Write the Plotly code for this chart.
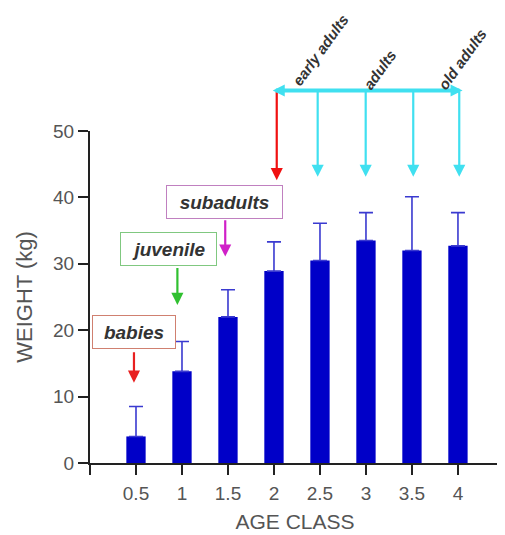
import plotly.graph_objects as go

age_class = [0.5, 1, 1.5, 2, 2.5, 3, 3.5, 4]
weight_mean = [4.0, 13.8, 22.0, 28.9, 30.5, 33.5, 32.0, 32.7]
weight_upper = [8.5, 18.3, 26.1, 33.3, 36.1, 37.7, 40.1, 37.7]
err_plus = [u - m for u, m in zip(weight_upper, weight_mean)]

x_tickvals = [0, 0.5, 1, 1.5, 2, 2.5, 3, 3.5, 4]
x_ticktext = ["", "0.5", "1", "1.5", "2", "2.5", "3", "3.5", "4"]
y_tickvals = [0, 10, 20, 30, 40, 50]
Y_MAX = 50

fig = go.Figure()
fig.add_trace(go.Bar(
    x=age_class, y=weight_mean, width=0.21,
    marker=dict(color="#0000c8", line=dict(width=0)),
    error_y=dict(type="data", array=err_plus, arrayminus=[0]*len(err_plus),
                 symmetric=False, color="#3a3ad0", thickness=1.6, width=7),
    showlegend=False,
))

FONT = "Liberation Sans, Arial, sans-serif"
label_font = dict(family=FONT, size=19, color="#333333")
ann = []
# stage boxes
for txt, x, y, bc, w in [("babies", 0.475, 19.8, "#d08070", 82),
                          ("juvenile", 0.851, 32.2, "#80c880", 95),
                          ("subadults", 1.467, 39.35, "#c080c0", 115)]:
    ann.append(dict(x=x, y=y, xref="x", yref="y", text="<b><i>%s</i></b>" % txt,
                    showarrow=False, font=label_font, bgcolor="white",
                    bordercolor=bc, borderwidth=1, borderpad=0, width=w, height=32))
# stage arrows (head at x,y ; tail at ax,ay)
for x, y0, y1, col in [(0.478, 16.9, 12.1, "#e82020"),
                       (0.95, 29.6, 23.8, "#30c030"),
                       (1.47, 36.8, 31.1, "#d020c8"),
                       (2.03, 56.1, 42.6, "#f01010")]:
    ann.append(dict(x=x, y=y1, ax=x, ay=y0, xref="x", yref="y", axref="x", ayref="y",
                    text="", showarrow=True, arrowhead=2, arrowsize=1.1, arrowwidth=2.2,
                    arrowcolor=col))
for x in [2.475, 2.997, 3.514, 4.014]:
    ann.append(dict(x=x, y=43.1, ax=x, ay=56.1, xref="x", yref="y", axref="x", ayref="y",
                    text="", showarrow=True, arrowhead=2, arrowsize=1.1, arrowwidth=2.2,
                    arrowcolor="#40e0f0"))
# horizontal double arrow (above the axis range -> paper y)
ann.append(dict(x=4.05, y=56.1 / Y_MAX, ax=1.97, ay=0, xref="x", yref="paper", axref="x", ayref="pixel",
                text="", showarrow=True, arrowhead=2, startarrowhead=2, arrowside="end+start",
                arrowsize=0.6, startarrowsize=0.6, arrowwidth=4, arrowcolor="#40e0f0"))
# rotated labels
rot_font = dict(family=FONT, size=15, color="#333333")
for txt, x, y in [("early adults", 2.511, 1.244), ("adults", 3.152, 1.184), ("old adults", 4.054, 1.217)]:
    ann.append(dict(x=x, y=y, xref="x", yref="paper", xanchor="center", yanchor="middle",
                    text="<b><i>%s</i></b>" % txt,
                    showarrow=False, textangle=-54, font=rot_font))

fig.update_layout(
    width=497, height=527,
    margin=dict(l=82, r=5, t=123, b=72),
    paper_bgcolor="white", plot_bgcolor="white",
    font=dict(family=FONT, color="#555555"),
    annotations=ann,
    xaxis=dict(range=[0, 4.457], tickvals=x_tickvals, ticktext=x_ticktext,
               showline=True, linecolor="#222222", linewidth=2,
               ticks="outside", ticklen=10, tickwidth=2, tickcolor="#222222",
               showgrid=False, zeroline=False, tickfont=dict(size=19, color="#555555"),
               ticklabelstandoff=2,
               title=dict(text="AGE CLASS", font=dict(size=21, color="#555555"), standoff=12)),
    yaxis=dict(range=[0, Y_MAX], tickvals=y_tickvals,
               showline=True, linecolor="#222222", linewidth=2,
               ticks="outside", ticklen=10, tickwidth=2, tickcolor="#222222",
               showgrid=False, zeroline=False, tickfont=dict(size=19, color="#555555"),
               title=dict(text="WEIGHT (kg)", font=dict(size=22, color="#555555"), standoff=14)),
)
fig.write_html("out.html")
